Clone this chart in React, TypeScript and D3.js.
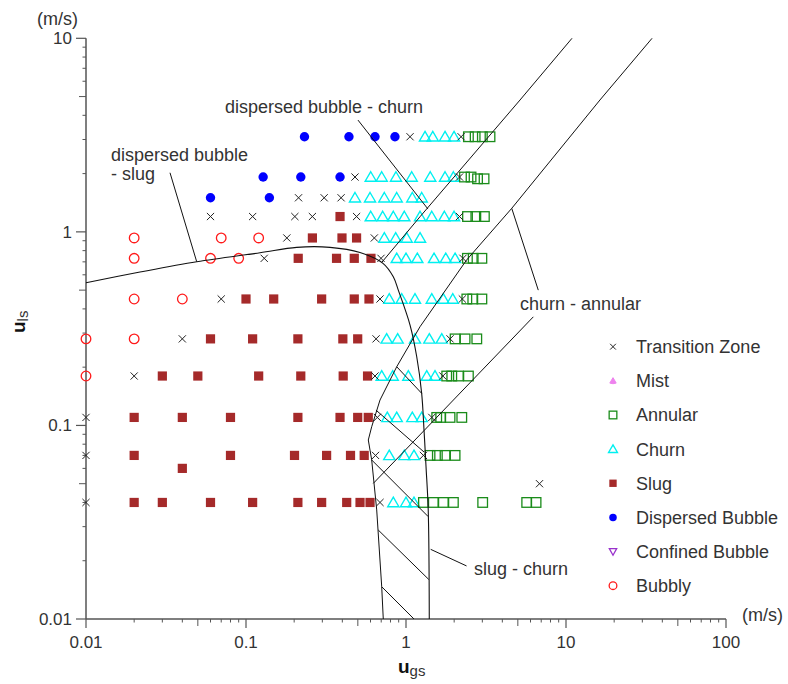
import React from 'react';
import * as d3 from 'd3';

type P = [number, number];

// ---------- axes ----------
const xDomain: P = [0.01, 100];
const yDomain: P = [0.01, 10];
const xTickValues = [0.01, 0.1, 1, 10, 100];
const xTickLabels = ['0.01', '0.1', '1', '10', '100'];
const yTickValues = [0.01, 0.1, 1, 10];
const yTickLabels = ['0.01', '0.1', '1', '10'];
const xDecades = [0.01, 0.1, 1, 10];
const yDecades = [0.01, 0.1, 1];

// ---------- observed flow-regime points [u_gs, u_ls] ----------
const transitionZone: P[] = [
  [1.06, 3.1], [2.21, 3.1],
  [0.48, 1.92], [2.16, 1.92],
  [0.213, 1.5], [0.308, 1.5], [0.393, 1.5],
  [0.06, 1.2], [0.11, 1.2], [0.202, 1.2], [0.26, 1.2], [0.491, 1.2], [2.16, 1.2],
  [0.18, 0.93], [0.634, 0.93],
  [0.13, 0.73], [0.698, 0.73], [2.27, 0.73],
  [0.07, 0.45], [0.688, 0.45], [2.25, 0.45],
  [0.04, 0.28], [0.65, 0.28], [1.885, 0.28],
  [0.02, 0.18], [0.64, 0.18], [1.7, 0.18],
  [0.01, 0.11], [0.662, 0.11], [1.45, 0.11],
  [0.01, 0.07], [0.645, 0.07], [1.285, 0.07],
  [0.01, 0.04], [0.688, 0.04],
  [6.83, 0.05],
];

const mist: P[] = [];

const annular: P[] = [
  [2.455, 3.1], [2.705, 3.1], [3.0, 3.1], [3.35, 3.1],
  [2.32, 1.92], [2.55, 1.92], [2.8, 1.88], [3.075, 1.88],
  [2.423, 1.2], [2.732, 1.2], [3.09, 1.2],
  [2.42, 0.73], [2.63, 0.73], [2.98, 0.73],
  [2.4, 0.45], [2.615, 0.45], [2.98, 0.45],
  [2.027, 0.28], [2.34, 0.28], [2.77, 0.28],
  [1.797, 0.18], [1.932, 0.18], [2.125, 0.18], [2.455, 0.18],
  [1.556, 0.11], [1.648, 0.11], [1.885, 0.11], [2.232, 0.11],
  [1.413, 0.07], [1.57, 0.07], [1.754, 0.07], [2.027, 0.07],
  [1.285, 0.04], [1.482, 0.04], [1.712, 0.04], [1.978, 0.04], [3.015, 0.04], [5.68, 0.04], [6.5, 0.04],
];

const churn: P[] = [
  [1.315, 3.1], [1.47, 3.1], [1.754, 3.1], [1.997, 3.1],
  [0.602, 1.92], [0.705, 1.92], [0.866, 1.92], [1.086, 1.92], [1.418, 1.92], [1.754, 1.92], [1.978, 1.92],
  [0.48, 1.5], [0.596, 1.5], [0.732, 1.5], [0.875, 1.5], [1.095, 1.5], [1.254, 1.5],
  [0.602, 1.2], [0.715, 1.2], [0.833, 1.2], [0.976, 1.2], [1.224, 1.2], [1.449, 1.2], [1.737, 1.2], [1.997, 1.2],
  [0.732, 0.93], [0.862, 0.93], [1.01, 0.93], [1.224, 0.93],
  [0.875, 0.73], [1.0, 0.73], [1.177, 0.73], [1.497, 0.73], [1.772, 0.73], [2.027, 0.73],
  [0.786, 0.45], [0.94, 0.45], [1.138, 0.45], [1.449, 0.45], [1.712, 0.45], [1.96, 0.45],
  [0.757, 0.28], [0.887, 0.28], [1.138, 0.28], [1.399, 0.28], [1.673, 0.28],
  [0.705, 0.18], [0.826, 0.18], [1.034, 0.18], [1.348, 0.18], [1.518, 0.18],
  [0.764, 0.11], [0.875, 0.11], [1.095, 0.11], [1.254, 0.11],
  [0.786, 0.07], [0.976, 0.07], [1.122, 0.07],
  [0.833, 0.04], [1.0, 0.04], [1.122, 0.04],
];

const slug: P[] = [
  [0.387, 1.2],
  [0.26, 0.93], [0.398, 0.93], [0.491, 0.93],
  [0.212, 0.73], [0.368, 0.73], [0.475, 0.73], [0.604, 0.73],
  [0.1, 0.45], [0.149, 0.45], [0.297, 0.45], [0.475, 0.45], [0.587, 0.45],
  [0.06, 0.28], [0.11, 0.28], [0.211, 0.28], [0.403, 0.28], [0.499, 0.28],
  [0.03, 0.18], [0.05, 0.18], [0.12, 0.18], [0.22, 0.18], [0.405, 0.18], [0.575, 0.18],
  [0.02, 0.11], [0.04, 0.11], [0.08, 0.11], [0.211, 0.11], [0.387, 0.11], [0.499, 0.11], [0.581, 0.11],
  [0.02, 0.07], [0.08, 0.07], [0.201, 0.07], [0.319, 0.07], [0.45, 0.07], [0.548, 0.07],
  [0.04, 0.06],
  [0.02, 0.04], [0.03, 0.04], [0.06, 0.04], [0.11, 0.04], [0.211, 0.04], [0.297, 0.04], [0.426, 0.04], [0.516, 0.04], [0.596, 0.04],
];

const dispersedBubble: P[] = [
  [0.232, 3.1], [0.44, 3.1], [0.64, 3.1], [0.853, 3.1],
  [0.128, 1.92], [0.22, 1.92], [0.387, 1.92],
  [0.06, 1.5], [0.14, 1.5],
];

const confinedBubble: P[] = [];

const bubbly: P[] = [
  [0.02, 0.93], [0.07, 0.93], [0.12, 0.93],
  [0.02, 0.73], [0.06, 0.73], [0.09, 0.73],
  [0.02, 0.45], [0.04, 0.45],
  [0.01, 0.28], [0.02, 0.28],
  [0.01, 0.18],
];

// ---------- transition boundaries [u_gs, u_ls] ----------
const dispersedSlugCurve: P[] = [
  [0.01, 0.546], [0.02175, 0.62], [0.0492, 0.701], [0.1223, 0.78], [0.2075, 0.832],
  [0.335, 0.832], [0.5158, 0.782], [0.718, 0.688], [0.833, 0.586], [0.895, 0.5],
  [1.06, 0.33], [1.167, 0.2264], [1.253, 0.1465], [1.296, 0.0947], [1.334, 0.0612],
  [1.377, 0.0366], [1.398, 0.01],
];
const dispersedChurnLine: P[] = [[10.9, 10], [5.16, 4.8], [1.223, 1.197], [0.708, 0.698]];
const churnAnnularLine: P[] = [
  [34.5, 10], [16.3, 4.8], [4.58, 1.323], [2.39, 0.715], [1.223, 0.3234], [0.875, 0.201],
  [0.688, 0.1353], [0.6104, 0.0985], [0.5813, 0.0841], [0.6104, 0.0663], [0.631, 0.0504],
  [0.656, 0.0366], [0.705, 0.01468], [0.721, 0.01],
];
const hatchLines: P[][] = [
  [[0.875, 0.201], [1.253, 0.1465]],
  [[0.649, 0.12], [1.296, 0.0729]],
  [[0.6104, 0.0663], [1.377, 0.0338]],
  [[0.6713, 0.0288], [1.388, 0.016]],
  [[0.705, 0.01468], [1.122, 0.01]],
];
const pointerLines: P[][] = [
  [[0.0335, 2.02], [0.0492, 0.701]],
  [[0.501, 3.78], [1.372, 1.312]],
  [[6.71, 0.5], [4.58, 1.323]],
  [[6.25, 0.364], [0.6248, 0.0502]],
  [[2.39, 0.0188], [1.427, 0.0229]],
];

const legendNames = [
  'Transition Zone', 'Mist', 'Annular', 'Churn', 'Slug',
  'Dispersed Bubble', 'Confined Bubble', 'Bubbly',
];

// ---------- layout ----------
const W = 788;
const H = 684;
const FONT = '"Liberation Sans", Arial, sans-serif';
const TEXT = '#333';
const AXIS = '#555';

const C_CROSS = '#222';
const C_MIST = '#ee82ee';
const C_ANN = '#1a8c1a';
const C_CHURN = '#00f0f0';
const C_SLUG = '#a52a2a';
const C_DB = '#0000ff';
const C_CONF = '#9932cc';
const C_BUB = '#ff1a1a';

function Marker({ kind, cx, cy, s = 1 }: { kind: string; cx: number; cy: number; s?: number }) {
  switch (kind) {
    case 'Transition Zone': {
      const a = 3.6 * s;
      return (
        <path
          d={`M${cx - a},${cy - a}L${cx + a},${cy + a}M${cx - a},${cy + a}L${cx + a},${cy - a}`}
          stroke={C_CROSS}
          strokeWidth={1}
          fill="none"
        />
      );
    }
    case 'Mist': {
      const a = 4 * s;
      return (
        <path
          d={`M${cx},${cy - a}L${cx + a},${cy + a * 0.7}Q${cx},${cy + a * 1.1} ${cx - a},${cy + a * 0.7}Z`}
          fill={C_MIST}
          stroke={C_MIST}
          strokeWidth={1}
        />
      );
    }
    case 'Annular': {
      const a = 4.8 * s;
      return <rect x={cx - a} y={cy - a} width={2 * a} height={2 * a} fill="none" stroke={C_ANN} strokeWidth={1.3} />;
    }
    case 'Churn': {
      const a = 5.3 * s;
      return (
        <path
          d={`M${cx},${cy - a}L${cx + a * 1.05},${cy + a * 0.8}L${cx - a * 1.05},${cy + a * 0.8}Z`}
          fill="none"
          stroke={C_CHURN}
          strokeWidth={1.4}
        />
      );
    }
    case 'Slug': {
      const a = 4.6 * s;
      return <rect x={cx - a} y={cy - a} width={2 * a} height={2 * a} fill={C_SLUG} />;
    }
    case 'Dispersed Bubble':
      return <circle cx={cx} cy={cy} r={4.7 * s} fill={C_DB} />;
    case 'Confined Bubble': {
      const a = 4.6 * s;
      return (
        <path
          d={`M${cx - a},${cy - a * 0.8}L${cx + a},${cy - a * 0.8}L${cx},${cy + a}Z`}
          fill="none"
          stroke={C_CONF}
          strokeWidth={1.3}
        />
      );
    }
    case 'Bubbly':
      return <circle cx={cx} cy={cy} r={4.8 * s} fill="none" stroke={C_BUB} strokeWidth={1.3} />;
    default:
      return null;
  }
}

export default function App() {
  const x = d3.scaleLog().domain(xDomain).range([86, 726]);
  const y = d3.scaleLog().domain(yDomain).range([619, 38.3]);
  const straight = d3.line<P>().x((d) => x(d[0])).y((d) => y(d[1]));
  const smooth = d3
    .line<P>()
    .x((d) => x(d[0]))
    .y((d) => y(d[1]))
    .curve(d3.curveCatmullRom.alpha(0.5));

  const xMinor: number[] = [];
  xDecades.forEach((d) => {
    for (let k = 2; k <= 9; k++) xMinor.push(d * k);
  });
  const yMinor: number[] = [];
  yDecades.forEach((d) => {
    for (let k = 2; k <= 9; k++) yMinor.push(d * k);
  });

  const series: [string, P[]][] = [
    ['Bubbly', bubbly],
    ['Confined Bubble', confinedBubble],
    ['Dispersed Bubble', dispersedBubble],
    ['Slug', slug],
    ['Churn', churn],
    ['Annular', annular],
    ['Mist', mist],
    ['Transition Zone', transitionZone],
  ];

  const x0 = x(xDomain[0]);
  const x1 = x(xDomain[1]);
  const y0 = y(yDomain[0]);
  const y1 = y(yDomain[1]);

  return (
    <svg
      width={W}
      height={H}
      style={{ position: 'fixed', left: 0, top: 0, background: '#fff' }}
      fontFamily={FONT}
    >
      <rect x={0} y={0} width={W} height={H} fill="#fff" />

      {/* axes */}
      <line x1={x0} x2={x0} y1={y0} y2={y1} stroke={AXIS} strokeWidth={1.5} />
      <line x1={x0} x2={x1} y1={y0} y2={y0} stroke={AXIS} strokeWidth={1.5} />
      {yTickValues.map((v) => (
        <line key={'yt' + v} x1={x0 - 10} x2={x0} y1={y(v)} y2={y(v)} stroke={AXIS} strokeWidth={1.2} />
      ))}
      {yMinor.map((v) => {
        const len = Math.abs(v / Math.pow(10, Math.floor(Math.log10(v) + 1e-9)) - 5) < 1e-6 ? 7 : 3.5;
        return <line key={'ym' + v} x1={x0 - len} x2={x0} y1={y(v)} y2={y(v)} stroke={AXIS} strokeWidth={1} />;
      })}
      {xTickValues.map((v) => (
        <line key={'xt' + v} x1={x(v)} x2={x(v)} y1={y0} y2={y0 + 9} stroke={AXIS} strokeWidth={1.2} />
      ))}
      {xMinor.map((v) => {
        const len = Math.abs(v / Math.pow(10, Math.floor(Math.log10(v) + 1e-9)) - 5) < 1e-6 ? 7 : 3.5;
        return <line key={'xm' + v} x1={x(v)} x2={x(v)} y1={y0} y2={y0 + len} stroke={AXIS} strokeWidth={1} />;
      })}
      {yTickValues.map((v, i) => (
        <text key={'yl' + v} x={x0 - 14} y={y(v) + 6} textAnchor="end" fontSize={17} fill={TEXT}>
          {yTickLabels[i]}
        </text>
      ))}
      {xTickValues.map((v, i) => (
        <text key={'xl' + v} x={x(v)} y={y0 + 29} textAnchor="middle" fontSize={17} fill={TEXT}>
          {xTickLabels[i]}
        </text>
      ))}

      {/* units */}
      <text x={37} y={25} fontSize={18} fill={TEXT}>(m/s)</text>
      <text x={742} y={621} fontSize={18} fill={TEXT}>(m/s)</text>

      {/* axis titles */}
      <text x={398} y={673} fill="#111">
        <tspan fontSize={19} fontWeight="bold">u</tspan>
        <tspan fontSize={15} dy={3} fill={TEXT}>gs</tspan>
      </text>
      <text transform="translate(25,333) rotate(-90)" fill="#111">
        <tspan fontSize={19} fontWeight="bold">u</tspan>
        <tspan fontSize={15} dy={3} fill={TEXT}>ls</tspan>
      </text>

      {/* data markers */}
      {series.map(([name, pts]) =>
        pts.map((p, i) => <Marker key={name + i} kind={name} cx={x(p[0])} cy={y(p[1])} />)
      )}

      {/* boundaries */}
      <path d={smooth(dispersedSlugCurve) || ''} fill="none" stroke="#111" strokeWidth={1.1} />
      <path d={straight(dispersedChurnLine) || ''} fill="none" stroke="#111" strokeWidth={1} />
      <path d={straight(churnAnnularLine) || ''} fill="none" stroke="#111" strokeWidth={1} />
      {hatchLines.map((l, i) => (
        <path key={'h' + i} d={straight(l) || ''} fill="none" stroke="#111" strokeWidth={1} />
      ))}
      {pointerLines.map((l, i) => (
        <path key={'p' + i} d={straight(l) || ''} fill="none" stroke="#111" strokeWidth={1} />
      ))}

      {/* annotations */}
      <text x={225} y={113} fontSize={18} fill={TEXT}>dispersed bubble - churn</text>
      <text x={111} y={161} fontSize={18} fill={TEXT}>dispersed bubble</text>
      <text x={111} y={180} fontSize={18} fill={TEXT}>- slug</text>
      <text x={520} y={310} fontSize={18} fill={TEXT}>churn - annular</text>
      <text x={474} y={575} fontSize={18} fill={TEXT}>slug - churn</text>

      {/* legend */}
      {legendNames.map((name, i) => {
        const cy = 346.7 + i * 34.14;
        return (
          <g key={'lg' + name}>
            <Marker kind={name} cx={613} cy={cy} s={0.8} />
            <text x={636} y={cy + 6.5} fontSize={18} fill={TEXT}>
              {name}
            </text>
          </g>
        );
      })}
    </svg>
  );
}
